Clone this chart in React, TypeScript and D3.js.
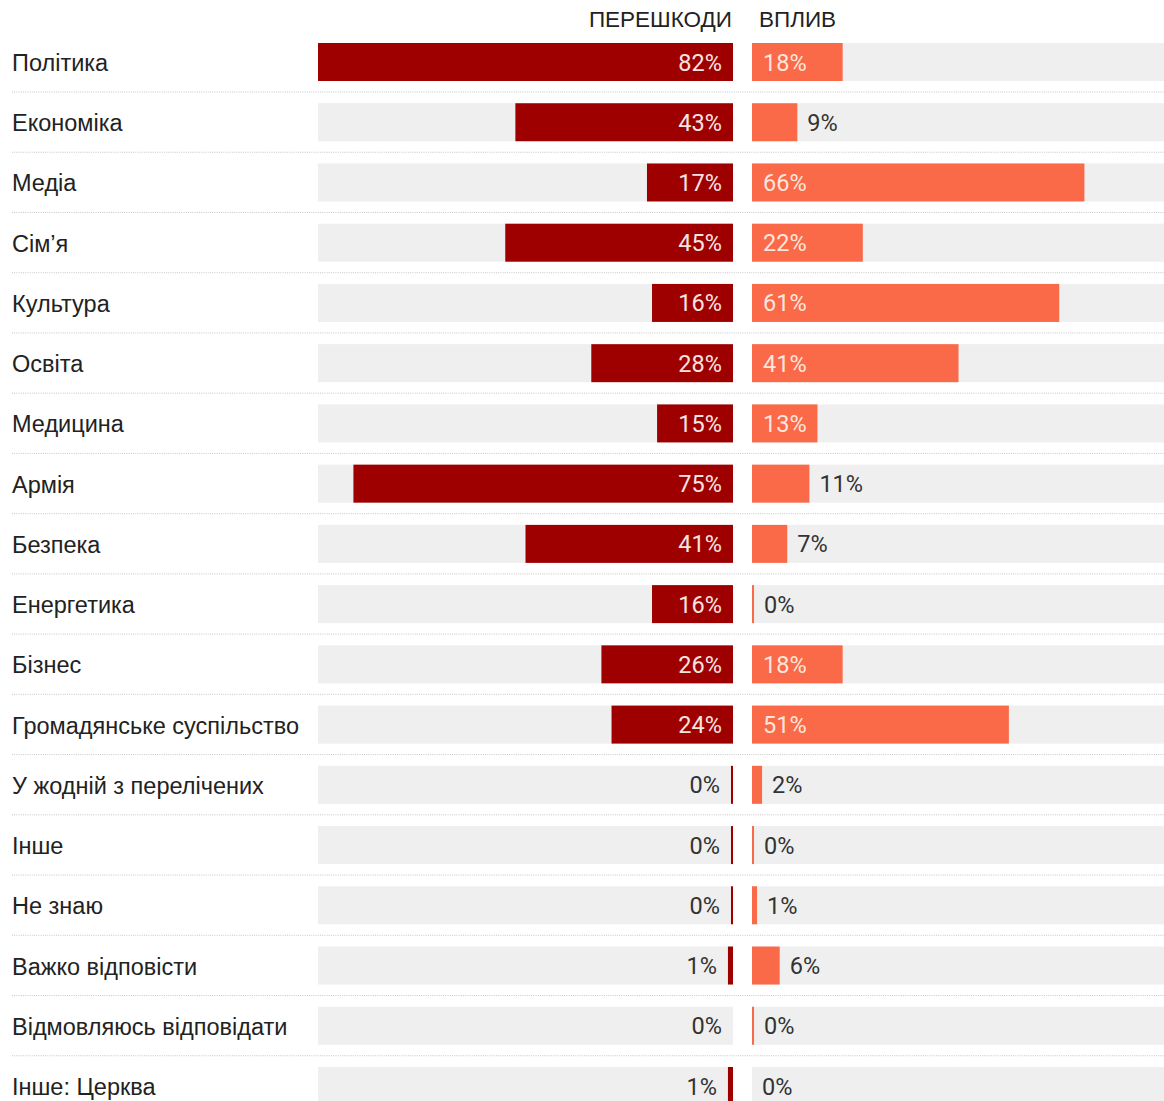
import React from "react";
import * as d3 from "d3";

const categories = [
  "Політика",
  "Економіка",
  "Медіа",
  "Сім’я",
  "Культура",
  "Освіта",
  "Медицина",
  "Армія",
  "Безпека",
  "Енергетика",
  "Бізнес",
  "Громадянське суспільство",
  "У жодній з перелічених",
  "Інше",
  "Не знаю",
  "Важко відповісти",
  "Відмовляюсь відповідати",
  "Інше: Церква",
];

// ПЕРЕШКОДИ (obstacles)
const obstacles = [82, 43, 17, 45, 16, 28, 15, 75, 41, 16, 26, 24, 0.4, 0.4, 0.4, 1, 0, 1];
// ВПЛИВ (influence)
const influence = [18, 9, 66, 22, 61, 41, 13, 11.4, 7, 0.4, 18, 51, 2, 0.4, 1, 5.5, 0.4, 0];

const headers = ["ПЕРЕШКОДИ", "ВПЛИВ"];

const W = 1164;
const H = 1101;

export default function App() {
  const xL = d3.scaleLinear().domain([0, 82]).range([733, 318]);
  const xR = d3.scaleLinear().domain([0, 82]).range([752, 1165]);
  const y = d3
    .scaleLinear()
    .domain([0, categories.length - 1])
    .range([62, 1086]);
  const barH = 38;
  const fmt = (v: number) => `${Math.round(v)}%`;
  const labelFont = "'Liberation Sans', Arial, Helvetica, sans-serif";
  const valFont = "Roboto, 'Noto Sans', sans-serif";
  const threshold = 12;

  return (
    <svg
      width={W}
      height={H}
      style={{ position: "absolute", left: 0, top: 0, background: "#fff" }}
    >
      <text
        x={732}
        y={27}
        textAnchor="end"
        fontFamily={labelFont}
        fontSize={22.5}
        fill="#222"
      >
        {headers[0]}
      </text>
      <text x={759} y={27} fontFamily={labelFont} fontSize={22.5} fill="#222">
        {headers[1]}
      </text>
      {categories.map((c, i) => {
        const cy = y(i);
        const o = obstacles[i];
        const f = influence[i];
        const oIn = o >= threshold;
        const fIn = f >= threshold;
        return (
          <g key={c}>
            <rect x={xL(82)} y={cy - barH / 2} width={xL(0) - xL(82)} height={barH} fill="#efefef" />
            <rect x={xR(0)} y={cy - barH / 2} width={xR(82) - xR(0)} height={barH} fill="#efefef" />
            {o > 0 && (
              <rect x={xL(o)} y={cy - barH / 2} width={xL(0) - xL(o)} height={barH} fill="#9e0000" />
            )}
            {f > 0 && (
              <rect x={xR(0)} y={cy - barH / 2} width={xR(f) - xR(0)} height={barH} fill="#fa6948" />
            )}
            <text
              x={12}
              y={cy + 9}
              fontFamily={labelFont}
              fontSize={23.5}
              fill="#222"
            >
              {c}
            </text>
            <text
              x={oIn ? xL(0) - 11 : xL(o) - 11}
              y={cy + 8.5}
              textAnchor="end"
              fontFamily={valFont}
              fontSize={23.5}
              fill={oIn ? "#f6e4e0" : "#333"}
            >
              {fmt(o)}
            </text>
            <text
              x={fIn ? xR(0) + 11 : xR(f) + 10}
              y={cy + 8.5}
              fontFamily={valFont}
              fontSize={23.5}
              fill={fIn ? "#fde6dc" : "#333"}
            >
              {fmt(f)}
            </text>
            {i < categories.length - 1 && (
              <line
                x1={12}
                x2={W}
                y1={cy + 30}
                y2={cy + 30}
                stroke="#c6c6c6"
                strokeWidth={1}
                strokeDasharray="1,1.2"
              />
            )}
          </g>
        );
      })}
    </svg>
  );
}
